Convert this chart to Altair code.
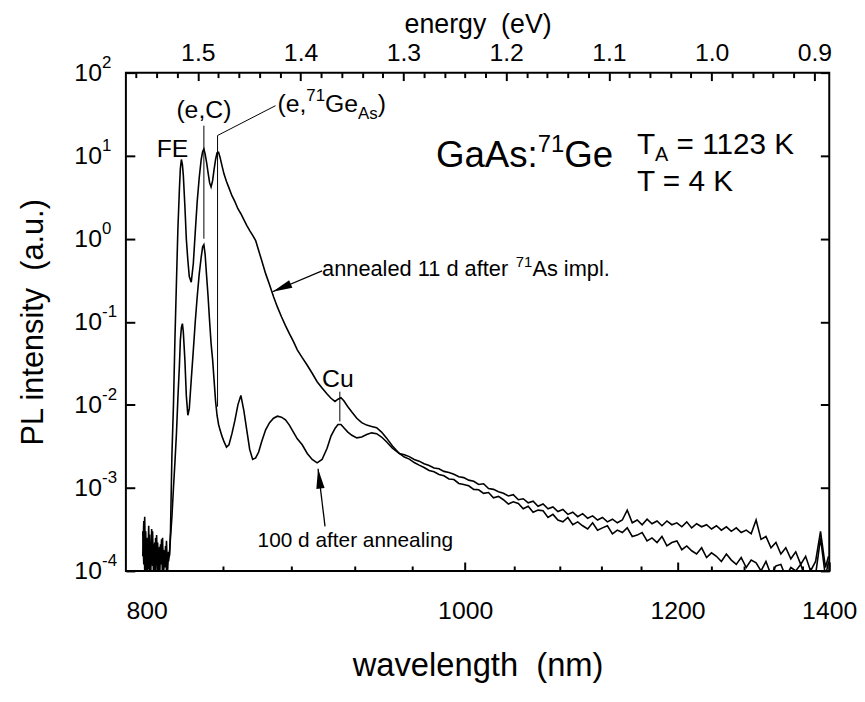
import altair as alt
import pandas as pd

HC = 1239.84  # eV * nm
FONT = "Liberation Sans"

# ---------------- spectra (photon energy in eV, PL intensity in a.u.) ----------------
energy_noise = [
    1.5536, 1.5526, 1.5517, 1.5507, 1.5497, 1.5488, 1.5478, 1.5469, 1.5459, 1.5449,
    1.5440, 1.5430, 1.5420, 1.5411, 1.5401, 1.5391, 1.5382, 1.5372, 1.5363, 1.5353,
    1.5343, 1.5334, 1.5324, 1.5314, 1.5305, 1.5295, 1.5285, 1.5276]
energy_peak = [
    1.5266, 1.5252, 1.5237, 1.5223, 1.5208, 1.5194, 1.5179, 1.5170, 1.5160, 1.5150,
    1.5141, 1.5126, 1.5112, 1.5097, 1.5083, 1.5064, 1.5044, 1.5025, 1.5006, 1.4986,
    1.4967, 1.4953, 1.4941, 1.4929, 1.4914, 1.4900, 1.4885, 1.4871, 1.4856, 1.4842,
    1.4827, 1.4813, 1.4798, 1.4784, 1.4765, 1.4745, 1.4721, 1.4697, 1.4668, 1.4639,
    1.4610, 1.4581, 1.4552, 1.4524, 1.4495, 1.4466, 1.4437, 1.4408, 1.4379, 1.4340,
    1.4302, 1.4263, 1.4225, 1.4186, 1.4147, 1.4109, 1.4070, 1.4032, 1.3984, 1.3935,
    1.3887, 1.3839, 1.3791, 1.3742, 1.3704, 1.3665, 1.3636, 1.3607, 1.3579, 1.3540,
    1.3501, 1.3453, 1.3405, 1.3357, 1.3309, 1.3260, 1.3212, 1.3164, 1.3106, 1.3039]
energy_tail = [
    1.2990, 1.2942, 1.2894, 1.2846, 1.2798, 1.2749, 1.2701, 1.2653, 1.2605, 1.2556,
    1.2508, 1.2460, 1.2412, 1.2364, 1.2315, 1.2267, 1.2219, 1.2171, 1.2123, 1.2074,
    1.2026, 1.1978, 1.1930, 1.1881, 1.1833, 1.1785, 1.1737, 1.1689, 1.1640, 1.1592,
    1.1544, 1.1496, 1.1447, 1.1399, 1.1351, 1.1303, 1.1255, 1.1206, 1.1158, 1.1110,
    1.1062, 1.1014, 1.0965, 1.0917, 1.0869, 1.0821, 1.0772, 1.0724, 1.0676, 1.0628,
    1.0580, 1.0531, 1.0483, 1.0435, 1.0387, 1.0338, 1.0290, 1.0242, 1.0194, 1.0146,
    1.0097, 1.0049, 1.0001, 0.9953, 0.9905, 0.9856, 0.9808, 0.9760, 0.9712, 0.9663,
    0.9615, 0.9567, 0.9519, 0.9471, 0.9422, 0.9374, 0.9326, 0.9278, 0.9229, 0.9181,
    0.9133, 0.9085, 0.9037, 0.8988, 0.8940, 0.8892, 0.8862]

# annealed 11 d after 71As implantation
annealed_noise = [
    3e-4, 1.2e-4, 4.5e-4, 0.8e-4, 2.5e-4, 1.1e-4, 3.5e-4, 0.7e-4, 2e-4, 1.4e-4,
    3e-4, 0.75e-4, 2.2e-4, 1e-4, 2.7e-4, 0.85e-4, 1.9e-4, 0.7e-4, 2.1e-4, 1.2e-4,
    2.5e-4, 0.8e-4, 1.75e-4, 1.1e-4, 2.3e-4, 0.95e-4, 1.7e-4, 1.5e-4]
annealed_peak = [
    3e-4, 2.5e-3, 0.01, 0.06, 0.3, 1.3, 4.0, 7.0, 9.0, 7.8,
    5.8, 2.5, 1.0, 0.55, 0.35, 0.30, 0.50, 1.2, 2.8, 5.5,
    9.0, 11.2, 12.0, 10.5, 8.2, 6.2, 4.7, 4.2, 5.0, 6.8,
    9.0, 10.8, 11.0, 9.6, 7.6, 6.0, 4.9, 4.1, 3.3, 2.8,
    2.3, 2.0, 1.7, 1.45, 1.25, 1.1, 0.95, 0.72, 0.55, 0.38,
    0.28, 0.20, 0.15, 0.115, 0.09, 0.072, 0.058, 0.046, 0.037, 0.030,
    0.024, 0.019, 0.016, 0.0135, 0.012, 0.011, 0.0117, 0.0122, 0.0112, 0.0095,
    0.0082, 0.0069, 0.0061, 0.0057, 0.0055, 0.0053, 0.0047, 0.0040, 0.0032, 0.0026]
annealed_tail = [
    2.35e-3, 2.22e-3, 2.02e-3, 1.88e-3, 1.76e-3, 1.62e-3, 1.56e-3, 1.45e-3, 1.40e-3, 1.28e-3,
    1.26e-3, 1.13e-3, 1.10e-3, 1.06e-3, 9.6e-4, 9.5e-4, 8.6e-4, 8.8e-4, 7.6e-4, 7.9e-4,
    7.2e-4, 6.4e-4, 6.8e-4, 6.5e-4, 5.6e-4, 6.0e-4, 5.1e-4, 5.4e-4, 5.3e-4, 4.4e-4,
    4.8e-4, 4.1e-4, 3.9e-4, 4.4e-4, 3.6e-4, 3.9e-4, 3.5e-4, 3.2e-4, 3.8e-4, 3.1e-4,
    3.3e-4, 3.5e-4, 2.8e-4, 3.1e-4, 2.9e-4, 3.3e-4, 2.6e-4, 2.7e-4, 2.9e-4, 2.3e-4,
    2.5e-4, 2.2e-4, 2.6e-4, 2.0e-4, 2.2e-4, 2.3e-4, 1.8e-4, 2.0e-4, 1.75e-4, 1.6e-4,
    1.9e-4, 1.45e-4, 1.65e-4, 1.5e-4, 1.3e-4, 1.6e-4, 1.35e-4, 1.2e-4, 1.45e-4, 1.1e-4,
    1.35e-4, 1.25e-4, 1.0e-4, 1.3e-4, 0.9e-4, 1.15e-4, 1.2e-4, 0.85e-4, 1.1e-4, 1.0e-4,
    1.2e-4, 0.8e-4, 1.05e-4, 0.9e-4, 2.5e-4, 0.85e-4, 1.3e-4]

# 100 d after annealing
aged_noise = [
    1.5e-4, 4e-4, 1e-4, 3e-4, 0.65e-4, 2.4e-4, 1.05e-4, 2.75e-4, 0.8e-4, 3.2e-4,
    1.15e-4, 2.1e-4, 0.7e-4, 2.5e-4, 1.3e-4, 2.2e-4, 0.85e-4, 1.95e-4, 1.25e-4, 2.4e-4,
    0.75e-4, 1.8e-4, 1.2e-4, 2e-4, 1.0e-4, 1.65e-4, 1.3e-4, 1.6e-4]
aged_peak = [
    2.5e-4, 4.5e-4, 1e-3, 2e-3, 4.5e-3, 0.012, 0.030, 0.060, 0.085, 0.095,
    0.075, 0.035, 0.013, 0.0075, 0.009, 0.020, 0.045, 0.10, 0.20, 0.38,
    0.60, 0.80, 0.85, 0.65, 0.35, 0.20, 0.10, 0.055, 0.035, 0.020,
    0.011, 0.0075, 0.0058, 0.005, 0.0042, 0.0036, 0.0031, 0.0033, 0.0045, 0.0065,
    0.010, 0.013, 0.0085, 0.0050, 0.0029, 0.0022, 0.0023, 0.0027, 0.0036, 0.005,
    0.0061, 0.0069, 0.0073, 0.0071, 0.0066, 0.0057, 0.0047, 0.0039, 0.0033, 0.0026,
    0.0022, 0.0020, 0.0022, 0.0030, 0.0042, 0.0052, 0.0058, 0.0058, 0.0053, 0.0047,
    0.0043, 0.0040, 0.0041, 0.0044, 0.0046, 0.0045, 0.0041, 0.0036, 0.0030, 0.0026]
aged_tail = [
    2.5e-3, 2.38e-3, 2.2e-3, 2.1e-3, 1.95e-3, 1.86e-3, 1.74e-3, 1.7e-3, 1.58e-3, 1.53e-3,
    1.46e-3, 1.36e-3, 1.33e-3, 1.24e-3, 1.2e-3, 1.1e-3, 1.12e-3, 9.8e-4, 9.6e-4, 9.0e-4,
    8.6e-4, 8.0e-4, 8.3e-4, 7.2e-4, 7.4e-4, 6.6e-4, 6.9e-4, 6.0e-4, 6.4e-4, 5.6e-4,
    5.9e-4, 5.2e-4, 5.5e-4, 4.8e-4, 5.1e-4, 4.5e-4, 4.9e-4, 4.3e-4, 4.6e-4, 4.1e-4,
    4.4e-4, 3.9e-4, 4.2e-4, 3.8e-4, 4.1e-4, 5.4e-4, 3.8e-4, 4.1e-4, 3.6e-4, 4.2e-4,
    3.7e-4, 4.0e-4, 3.5e-4, 4.0e-4, 3.6e-4, 3.8e-4, 3.4e-4, 3.9e-4, 3.3e-4, 3.7e-4,
    3.4e-4, 3.6e-4, 3.2e-4, 3.5e-4, 3.1e-4, 3.4e-4, 3.0e-4, 3.3e-4, 2.9e-4, 3.1e-4,
    2.8e-4, 4.1e-4, 2.4e-4, 2.6e-4, 1.9e-4, 2.2e-4, 1.6e-4, 1.9e-4, 1.4e-4, 1.7e-4,
    1.2e-4, 1.5e-4, 1.0e-4, 1.3e-4, 3.0e-4, 1.1e-4, 1.5e-4]

energy = energy_noise + energy_peak + energy_tail
annealed = annealed_noise + annealed_peak + annealed_tail
aged = aged_noise + aged_peak + aged_tail
series_names = ["annealed 11 d after 71As impl.", "100 d after annealing"]

# ---------------- axis ticks ----------------
wl_major = [800, 1000, 1200, 1400]
wl_minor = [840, 880, 920, 960, 1040, 1080, 1120, 1160, 1240, 1280, 1320, 1360]
ev_major = [1.5, 1.4, 1.3, 1.2, 1.1, 1.0, 0.9]
ev_minor = [1.56, 1.54, 1.52, 1.48, 1.46, 1.44, 1.42, 1.38, 1.36, 1.34, 1.32,
            1.28, 1.26, 1.24, 1.22, 1.18, 1.16, 1.14, 1.12, 1.08, 1.06, 1.04,
            1.02, 0.98, 0.96, 0.94, 0.92]
decades = [1e2, 1e1, 1e0, 1e-1, 1e-2, 1e-3, 1e-4]
decade_exp = ["2", "1", "0", "-1", "-2", "-3", "-4"]

# ---------------- annotations (anchored in data coordinates) ----------------
ann_c_text = ["FE", "(e,C)", "Cu"]
ann_c_E = [1.5247, 1.4941, 1.3637]
ann_c_I = [9.68, 28.3, 0.0163]
ann_c_size = [25, 25, 25]

ann_l_text = ["(e,", "71", "Ge", "As", ")",
              "GaAs:", "71", "Ge",
              "T", "A", "= 1123 K", "T = 4 K",
              "annealed 11 d after", "71", "As impl.",
              "100 d after annealing"]
ann_l_E = [1.4225, 1.3944, 1.3762, 1.3440, 1.3249,
           1.2683, 1.1692, 1.1435,
           1.0726, 1.0550, 1.0341, 1.0726,
           1.3791, 1.1905, 1.1744,
           1.4418]
ann_l_I = [33.5, 45.5, 33.5, 27.5, 33.5,
           7.36, 11.1, 7.36,
           10.5, 8.67, 10.5, 3.8,
           0.3586, 0.459, 0.3586,
           1.93e-4]
ann_l_size = [25, 17, 25, 17, 25,
              37, 24, 37,
              30, 20, 30, 30,
              22, 15, 22,
              21]

leader_E1 = [1.4941, 1.4244, 1.4808, 1.3618]
leader_I1 = [23.0, 40.0, 17.5, 0.0144]
leader_E2 = [1.4941, 1.4808, 1.4808, 1.3618]
leader_I2 = [1.0, 17.5, 0.0095, 0.00632]

arrow_tail_E = [1.3791, 1.3762]
arrow_tail_I = [0.41, 3.44e-4]
arrow_tip_E = [1.4273, 1.3830]
arrow_tip_I = [0.23, 1.7e-3]
arrow_angle = [247, 353]

# ---------------- build ----------------
spec_df = pd.DataFrame({
    "E": energy + energy,
    "I": annealed + aged,
    "s": [series_names[0]] * len(energy) + [series_names[1]] * len(energy),
})

xs = alt.Scale(domain=[0.8855, 1.57], reverse=True, nice=False, zero=False)
ys = alt.Scale(type="log", domain=[1e-4, 1e2], nice=False)

common_axis = dict(domain=False, grid=False, tickColor="black", tickWidth=2,
                   labelColor="black", labelFont=FONT, labelFontSize=25,
                   titleColor="black", titleFont=FONT, titleFontSize=31,
                   titleFontWeight="normal", labelFlush=False, labelOverlap=False)

wl_test = f"round({HC}/datum.value) % 200 == 0"
bottom_common = dict(common_axis)
bottom_common["titleFontSize"] = 33
bottom_axis = alt.Axis(
    orient="bottom", values=[HC / w for w in wl_major + wl_minor],
    labelExpr=f"{wl_test} ? '' + round({HC}/datum.value) : ''",
    tickSize={"expr": f"{wl_test} ? -9 : -5"}, labelPadding=37,
    title="wavelength\u00a0 (nm)", titleX=355, titleY=96,
    titleAlign="center", titleBaseline="middle", **bottom_common)

ev_test = "abs(datum.value*10 - round(datum.value*10)) < 0.001"
top_common = dict(common_axis)
top_common["titleFontSize"] = 27
top_axis = alt.Axis(
    orient="top", values=ev_major + ev_minor,
    labelExpr=f"{ev_test} ? format(datum.value, '.1f') : ''",
    tickSize={"expr": f"{ev_test} ? -8 : -5"}, labelPadding=15,
    title="energy\u00a0 (eV)", titleX=355, titleY=-49,
    titleAlign="center", titleBaseline="middle", **top_common)

left_axis = alt.Axis(
    orient="left", values=decades, tickSize={"expr": "-9"}, labels=False,
    title="PL intensity\u00a0 (a.u.)", titleX=-93, titleY=251.5,
    titleAlign="center", titleBaseline="middle", **common_axis)

right_axis = alt.Axis(
    orient="right", values=decades, tickSize={"expr": "-9"}, labels=False,
    title=None, **common_axis)

lines = alt.Chart(spec_df).mark_line(color="black", strokeWidth=1.6, clip=True).encode(
    x=alt.X("E:Q", scale=xs, axis=bottom_axis),
    y=alt.Y("I:Q", scale=ys, axis=left_axis),
    detail="s:N",
)

holder = alt.Chart(spec_df).mark_line(opacity=0, clip=True).encode(
    x=alt.X("E:Q", scale=xs, axis=top_axis),
    y=alt.Y("I:Q", scale=ys, axis=right_axis),
    detail="s:N",
)

ylab_df = pd.DataFrame({"v": decades, "exp": decade_exp})
tens = alt.Chart(ylab_df).mark_text(align="left", baseline="middle", fontSize=25,
                                    font=FONT, color="black").encode(
    x=alt.value(-52), y=alt.Y("v:Q", scale=ys, axis=None), text=alt.value("10"))
exps = alt.Chart(ylab_df).mark_text(align="left", baseline="middle", fontSize=17,
                                    dy=-10, font=FONT, color="black").encode(
    x=alt.value(-24), y=alt.Y("v:Q", scale=ys, axis=None), text="exp:N")

ann_c_df = pd.DataFrame({"t": ann_c_text, "E": ann_c_E, "I": ann_c_I, "fs": ann_c_size})
ann_c = alt.Chart(ann_c_df).mark_text(align="center", baseline="alphabetic",
                                      font=FONT, color="black").encode(
    x=alt.X("E:Q", scale=xs, axis=None), y=alt.Y("I:Q", scale=ys, axis=None),
    text="t:N", size=alt.Size("fs:Q", scale=None, legend=None))

ann_l_df = pd.DataFrame({"t": ann_l_text, "E": ann_l_E, "I": ann_l_I, "fs": ann_l_size})
ann_l = alt.Chart(ann_l_df).mark_text(align="left", baseline="alphabetic",
                                      font=FONT, color="black").encode(
    x=alt.X("E:Q", scale=xs, axis=None), y=alt.Y("I:Q", scale=ys, axis=None),
    text="t:N", size=alt.Size("fs:Q", scale=None, legend=None))

lead_df = pd.DataFrame({"E1": leader_E1, "I1": leader_I1, "E2": leader_E2, "I2": leader_I2})
leaders = alt.Chart(lead_df).mark_rule(color="black", strokeWidth=1).encode(
    x=alt.X("E1:Q", scale=xs, axis=None), y=alt.Y("I1:Q", scale=ys, axis=None),
    x2="E2:Q", y2="I2:Q")

arr_df = pd.DataFrame({"E1": arrow_tail_E, "I1": arrow_tail_I, "E2": arrow_tip_E,
                       "I2": arrow_tip_I, "ang": arrow_angle})
arrow_lines = alt.Chart(arr_df).mark_rule(color="black", strokeWidth=1.3).encode(
    x=alt.X("E1:Q", scale=xs, axis=None), y=alt.Y("I1:Q", scale=ys, axis=None),
    x2="E2:Q", y2="I2:Q")
heads = alt.Chart(arr_df).mark_point(
    shape="M0,0L0.42,2L-0.42,2Z", filled=True, color="black", opacity=1, size=400
).encode(
    x=alt.X("E2:Q", scale=xs, axis=None), y=alt.Y("I2:Q", scale=ys, axis=None),
    angle=alt.Angle("ang:Q", scale=None))

chart = alt.layer(
    lines, holder, tens, exps, ann_c, ann_l, leaders, arrow_lines, heads
).resolve_axis(
    x="independent", y="independent"
).properties(
    width=710, height=503,
    padding={"left": 119, "top": 62, "right": 28, "bottom": 124},
    autosize=alt.AutoSizeParams(type="none"),
).configure(
    font=FONT
).configure_view(
    stroke="black", strokeWidth=2
)

chart.save("out.html", embed_options={"renderer": "svg", "actions": False})
